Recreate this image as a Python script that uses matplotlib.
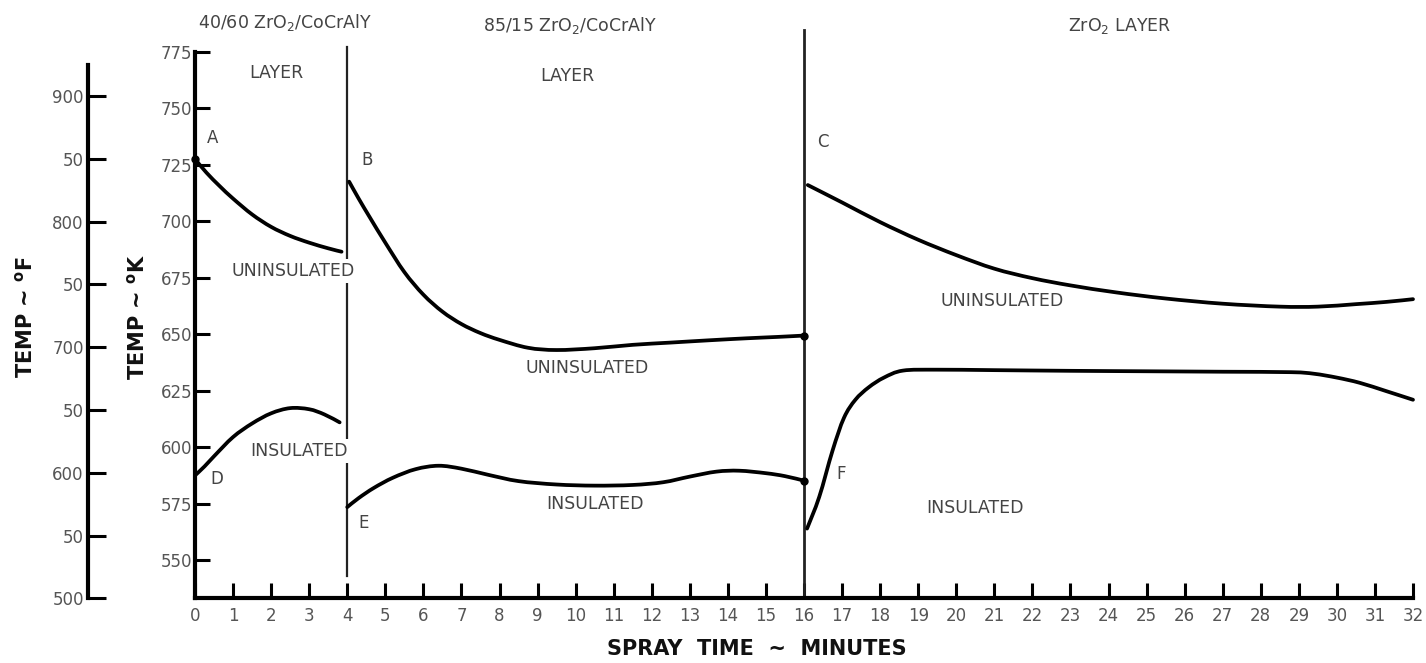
import matplotlib
matplotlib.use('Agg')
import matplotlib.pyplot as plt
from matplotlib.path import Path
from matplotlib.patches import PathPatch

plt.rcParams['font.family'] = ['DejaVu Sans']

# K axis ticks, F axis ticks
k_ticks = [550, 575, 600, 625, 650, 675, 700, 725, 750, 775]
f_ticks = [500, 550, 600, 650, 700, 750, 800, 850, 900]
f_labels = ['500', '50', '600', '50', '700', '50', '800', '50', '900']
x_ticks = list(range(0, 33))

# layer boundaries (minutes)
layer_changes = [4, 16]

# uninsulated curves (minutes, deg K)
unins1_t = [0, 0.3, 0.65, 1.0, 1.5, 2.0, 2.5, 3.0, 3.5, 3.85]
unins1_k = [727.5, 721.5, 715.5, 710, 703, 697.5, 693.5, 690.5, 688, 686.5]
unins2_t = [4.05, 4.3, 4.6, 5.0, 5.5, 6.0, 6.5, 7.0, 7.5, 8.0, 8.75, 9.5,
            10.5, 11.5, 12.5, 13.5, 14.5, 15.3, 16.0]
unins2_k = [717.5, 710, 701.5, 690.5, 677.5, 667.5, 660, 654.5, 650.5, 647.5,
            644, 643, 643.8, 645.3, 646.3, 647.3, 648.2, 648.8, 649.4]
unins3_t = [16.1, 17.0, 18.0, 19.0, 20.0, 21.0, 22.0, 23.0, 24.2, 25.5,
            27.0, 28.5, 29.5, 30.5, 31.3, 32.0]
unins3_k = [716, 708.3, 699.6, 691.8, 685, 679, 674.8, 671.6, 668.5,
            665.8, 663.5, 662.2, 662.2, 663.3, 664.3, 665.5]

# insulated curves
ins1_t = [0, 0.25, 0.5, 1.0, 1.5, 2.0, 2.5, 3.0, 3.4, 3.8]
ins1_k = [587.5, 591.5, 596, 604.5, 610.5, 615, 617.3, 616.8, 614.5, 611]
ins2_t = [4.0, 4.3, 4.7, 5.2, 5.8, 6.4, 7.0, 7.7, 8.5, 9.5, 10.5, 11.5, 12.3,
          13.0, 13.7, 14.3, 15.0, 15.5, 16.0]
ins2_k = [573.5, 577.5, 582, 586.5, 590.3, 591.8, 590.5, 587.8, 585, 583.5,
          583, 583.3, 584.5, 587, 589.2, 589.6, 588.5, 587.2, 585.2]
ins3_t = [16.08, 16.4, 16.75, 17.05, 17.35, 17.7, 18.1, 18.6, 19.5, 21, 23,
          25, 27, 28.8, 29.4, 30.0, 30.6, 31.3, 32.0]
ins3_k = [564, 578, 598.5, 613, 621, 626.5, 630.8, 633.9, 634.3, 634.1, 633.8,
          633.6, 633.4, 633.2, 632.5, 630.8, 628.5, 624.8, 621]


def k2f(k):
    return (k - 273.15) * 9 / 5 + 32


def f2k(f):
    return (f - 32) * 5 / 9 + 273.15


def smooth_path(xs, ys):
    # catmull-rom through the read points, drawn as cubic bezier pieces
    pts = list(zip(xs, ys))
    verts = [pts[0]]
    codes = [Path.MOVETO]
    n = len(pts)
    for i in range(n - 1):
        p0 = pts[max(i - 1, 0)]
        p1 = pts[i]
        p2 = pts[i + 1]
        p3 = pts[min(i + 2, n - 1)]
        c1 = (p1[0] + (p2[0] - p0[0]) / 6, p1[1] + (p2[1] - p0[1]) / 6)
        c2 = (p2[0] - (p3[0] - p1[0]) / 6, p2[1] - (p3[1] - p1[1]) / 6)
        verts += [c1, c2, p2]
        codes += [Path.CURVE4] * 3
    return Path(verts, codes)


fig = plt.figure(figsize=(14.26, 6.63), dpi=100)
ax = fig.add_axes([195 / 1426, 1 - 598.3 / 663, 1218 / 1426, 546.6 / 663])

ax.set_xlim(0, 32)
ax.set_ylim(f2k(500), 775)
for s in ['top', 'right']:
    ax.spines[s].set_visible(False)
for s in ['left', 'bottom']:
    ax.spines[s].set_linewidth(3)

ax.set_xticks(x_ticks)
ax.set_yticks(k_ticks)
ax.tick_params(axis='x', direction='in', length=11, width=2.2, pad=6,
               labelsize=12, labelcolor='#555555')
ax.tick_params(axis='y', direction='in', length=11, width=2.2, pad=2,
               labelsize=12, labelcolor='#555555')

# degrees F scale
sec = ax.secondary_yaxis(-107 / 1218, functions=(k2f, f2k))
sec.set_yticks(f_ticks, labels=f_labels)
sec.spines['left'].set_linewidth(3)
sec.spines['left'].set_bounds(500, 925)
sec.tick_params(direction='in', length=13, width=2.2, pad=3,
                labelsize=12, labelcolor='#555555')

# vertical layer lines
ax.plot([layer_changes[0]] * 2, [543, 777], color='#222222', lw=1.6,
        clip_on=False, zorder=2)
ax.plot([layer_changes[1]] * 2, [f2k(500), 784.6], color='#222222', lw=2,
        clip_on=False, zorder=2)

# curves
for t, k in [(unins1_t, unins1_k), (unins2_t, unins2_k), (unins3_t, unins3_k),
             (ins1_t, ins1_k), (ins2_t, ins2_k), (ins3_t, ins3_k)]:
    ax.add_patch(PathPatch(smooth_path(t, k), fill=False, edgecolor='black',
                           lw=2.7, capstyle='round', clip_on=False, zorder=3))
ax.plot(unins2_t[-1], unins2_k[-1], 'ko', ms=5, zorder=3)
ax.plot(ins2_t[-1], ins2_k[-1], 'ko', ms=5, zorder=3)
ax.plot(unins1_t[0], unins1_k[0], 'ko', ms=5, zorder=3, clip_on=False)

tc = '#444444'
fs = 12.5
ax.text(0.08, 787.7, '40/60 ZrO$_2$/CoCrAlY', fontsize=fs, color=tc,
        ha='left', va='center')
ax.text(2.14, 765.5, 'LAYER', fontsize=fs, color=tc, ha='center', va='center')
ax.text(9.84, 786.8, '85/15 ZrO$_2$/CoCrAlY', fontsize=fs, color=tc,
        ha='center', va='center')
ax.text(9.79, 764.2, 'LAYER', fontsize=fs, color=tc, ha='center', va='center')
ax.text(24.3, 786.5, 'ZrO$_2$ LAYER', fontsize=fs, color=tc, ha='center',
        va='center')

for lab, x, y in [('A', 0.47, 736.7), ('B', 4.52, 727), ('C', 16.5, 735),
                  ('D', 0.57, 586), ('E', 4.44, 566.5), ('F', 16.97, 588)]:
    ax.text(x, y, lab, fontsize=12, color=tc, ha='center', va='center')

white = dict(facecolor='white', edgecolor='none', pad=2)
ax.text(2.58, 678, 'UNINSULATED', fontsize=fs, color=tc, ha='center',
        va='center', bbox=white, zorder=5)
ax.text(2.72, 598.4, 'INSULATED', fontsize=fs, color=tc, ha='center',
        va='center', bbox=white, zorder=5)
ax.text(10.31, 635, 'UNINSULATED', fontsize=fs, color=tc, ha='center',
        va='center')
ax.text(10.5, 575, 'INSULATED', fontsize=fs, color=tc, ha='center',
        va='center')
ax.text(21.2, 664.5, 'UNINSULATED', fontsize=fs, color=tc, ha='center',
        va='center')
ax.text(20.5, 573.3, 'INSULATED', fontsize=fs, color=tc, ha='center',
        va='center')

# axis titles
ax.set_xlabel('SPRAY  TIME  ~  MINUTES', fontsize=15, fontweight='bold',
              color='#111111')
ax.xaxis.set_label_coords((757 - 195) / 1218, (598.3 - 639) / 546.6)
ax.text((137 - 195) / 1218, (598.3 - 317) / 546.6, r'TEMP ~ $^{\bf o}$K',
        transform=ax.transAxes, rotation=90, ha='center', va='center',
        fontsize=15, fontweight='bold', color='#111111')
ax.text((25 - 195) / 1218, (598.3 - 317) / 546.6, r'TEMP ~ $^{\bf o}$F',
        transform=ax.transAxes, rotation=90, ha='center', va='center',
        fontsize=15, fontweight='bold', color='#111111')

fig.savefig('out.png', dpi=100)
